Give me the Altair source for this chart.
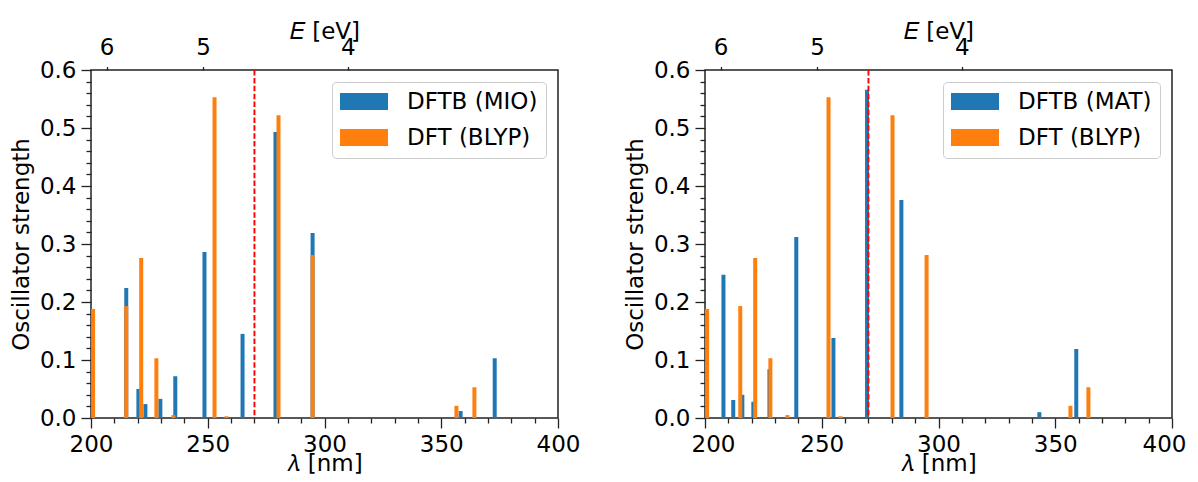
import altair as alt
import pandas as pd

# ---- data ----
dft_lam = [200.9, 215.1, 221.5, 228.0, 235.3, 252.9, 258.0, 280.3, 294.9, 356.5, 364.2]
dft_f = [0.188, 0.193, 0.276, 0.103, 0.005, 0.553, 0.003, 0.522, 0.281, 0.021, 0.053]

mio_lam = [215.1, 220.3, 223.3, 229.7, 236.1, 248.6, 264.9, 279.0, 294.9, 358.3, 372.9]
mio_f = [0.224, 0.050, 0.024, 0.033, 0.072, 0.286, 0.145, 0.493, 0.319, 0.012, 0.103]

mat_lam = [207.9, 212.1, 216.0, 220.7, 227.6, 239.1, 255.0, 269.4, 284.1, 343.2, 359.0]
mat_f = [0.247, 0.031, 0.040, 0.028, 0.084, 0.312, 0.138, 0.566, 0.376, 0.010, 0.119]

energy_ticks = [6, 5, 4]
marker_lam = [270.0]
HC = 1239.84  # eV nm

BLUE = "#1f77b4"
ORANGE = "#ff7f0e"
FONT = "DejaVu Sans"
FS = 23
INK = "#222222"

x_ticks = list(range(200, 401, 10))
y_ticks = [round(i * 0.02, 2) for i in range(31)]

# legend swatch: 48 x 17 px rectangle, starting at the entry origin
LEGEND_SWATCH = "M-1,-0.739H3.174V0.739H-1Z"


def panel(tb_lam, tb_f, tb_name, last_panel):
    df = pd.concat([
        pd.DataFrame({"lam": tb_lam, "f": tb_f, "series": tb_name}),
        pd.DataFrame({"lam": dft_lam, "f": dft_f, "series": "DFT (BLYP)"}),
    ], ignore_index=True)
    xscale = alt.Scale(domain=[200, 400], nice=False, zero=False, padding=0)
    yscale = alt.Scale(domain=[0, 0.6], nice=False, padding=0)
    flush = dict(labelFlush=True, labelFlushOffset=14) if last_panel else dict(labelFlush=False)
    bars = alt.Chart(df).mark_bar(size=4, clip=True).encode(
        x=alt.X("lam:Q", scale=xscale, axis=alt.Axis(
            values=x_ticks, title="𝜆 [nm]",
            tickSize={"condition": {"test": "datum.value % 50 === 0", "value": 10}, "value": 5},
            labelExpr="datum.value % 50 === 0 ? datum.label : ''",
            labelOverlap=False, labelPadding=5, titlePadding=-4, **flush)),
        y=alt.Y("f:Q", scale=yscale, stack=None, axis=alt.Axis(
            values=y_ticks, title="Oscillator strength",
            tickSize={"condition": {"test": "abs(datum.value*10 - round(datum.value*10)) < 0.001", "value": 10}, "value": 5},
            labelExpr="abs(datum.value*10 - round(datum.value*10)) < 0.001 ? format(datum.value, '.1f') : ''",
            labelOverlap=False, labelFlush=False, labelPadding=5, titlePadding=6)),
        color=alt.Color("series:N", scale=alt.Scale(domain=[tb_name, "DFT (BLYP)"], range=[BLUE, ORANGE]),
                        legend=alt.Legend(
                            title=None, orient="top-right", offset=12,
                            fillColor="white", strokeColor="#cccccc", cornerRadius=4, padding=8,
                            symbolType=LEGEND_SWATCH, symbolSize=529, symbolStrokeWidth=0,
                            symbolOpacity=1, labelFont=FONT, labelFontSize=FS, labelColor="black",
                            labelOffset=44, rowPadding=12)),
    )
    rule = alt.Chart(pd.DataFrame({"lam": marker_lam})).mark_rule(
        color="red", strokeDash=[5.5, 2.4], strokeWidth=1.9
    ).encode(
        x=alt.X("lam:Q", scale=xscale, axis=alt.Axis(
            orient="top", values=[HC / e for e in energy_ticks], title="𝐸 [eV]",
            labelExpr="format(1239.84 / datum.value, '.0f')", tickSize=3.5,
            labelPadding=7, titlePadding=-6.5, labelFlush=False, labelOverlap=False)),
    )
    return alt.layer(bars, rule).resolve_scale(x="independent").properties(width=467, height=348)


left = panel(mio_lam, mio_f, "DFTB (MIO)", False)
right = panel(mat_lam, mat_f, "DFTB (MAT)", True)

chart = alt.hconcat(left, right, spacing=147, bounds="flush").resolve_scale(
    color="independent"
).configure_view(
    stroke=INK, strokeWidth=1.5
).configure_axis(
    labelFont=FONT, labelFontSize=FS, labelColor="black",
    titleFont=FONT, titleFontSize=FS, titleColor="black", titleFontWeight="normal",
    tickColor=INK, tickWidth=1.3, domain=False, grid=False,
).properties(padding={"left": 1, "top": 11, "right": 0, "bottom": 0})

chart.save("out.html", embed_options={"renderer": "svg", "actions": False})
